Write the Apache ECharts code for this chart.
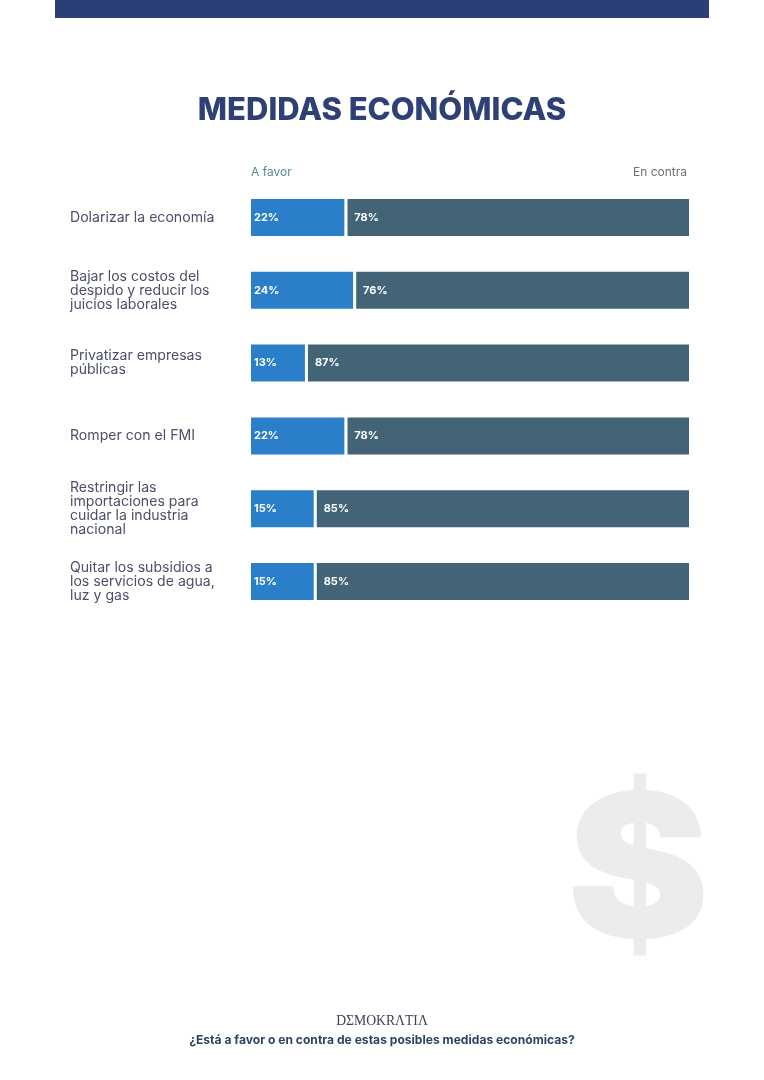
<!DOCTYPE html>
<html>
<head>
<meta charset="utf-8">
<style>html,body{margin:0;padding:0;background:#fff}#chart{width:764px;height:1080px}</style>
<script src="https://cdn.jsdelivr.net/npm/echarts@6/dist/echarts.min.js"></script>
</head>
<body>
<div id="chart"></div>
<script>
// Encuesta: medidas económicas, a favor / en contra (%)
const categories = [
  'Dolarizar la economía',
  'Bajar los costos del\ndespido y reducir los\njuicios laborales',
  'Privatizar empresas\npúblicas',
  'Romper con el FMI',
  'Restringir las\nimportaciones para\ncuidar la industria\nnacional',
  'Quitar los subsidios a\nlos servicios de agua,\nluz y gas'
];
const aFavor = [22, 24, 13, 22, 15, 15];
const enContra = [78, 76, 87, 78, 85, 85];

const SANS = 'Inter, "Open Sans", sans-serif';
const chart = echarts.init(document.getElementById('chart'), null, { renderer: 'canvas' });

chart.setOption({
  animation: false,
  backgroundColor: '#ffffff',
  grid: { left: 251, top: 181, width: 438, height: 437 },
  xAxis: { type: 'value', min: 0, max: 100, show: false },
  yAxis: {
    type: 'category',
    inverse: true,
    data: categories,
    axisLine: { show: false },
    axisTick: { show: false },
    axisLabel: {
      align: 'left',
      margin: 181,
      color: '#4b4f6b',
      fontFamily: SANS,
      fontSize: 14.1,
      lineHeight: 14,
      padding: [2, 0, 0, 0]
    }
  },
  series: [
    {
      name: 'A favor', type: 'bar', stack: 'total', barWidth: 37, data: aFavor,
      itemStyle: { color: '#2b7fca' },
      label: { show: true, position: 'insideLeft', distance: 3, color: '#fff',
               fontFamily: SANS, fontWeight: 700, fontSize: 11, formatter: '{c}%' }
    },
    {
      name: 'En contra', type: 'bar', stack: 'total', barWidth: 37, data: enContra,
      itemStyle: { color: '#426476' },
      label: { show: true, position: 'insideLeft', distance: 7, color: '#fff',
               fontFamily: SANS, fontWeight: 700, fontSize: 11, formatter: '{c}%' }
    },
    {
      // Separador blanco entre los dos tramos de cada barra
      name: 'separador', type: 'custom', silent: true, z: 5,
      data: aFavor.map((v, i) => [v, i]),
      encode: { x: 0, y: 1 },
      renderItem(params, api) {
        const p = api.coord([api.value(0), api.value(1)]);
        return { type: 'rect', shape: { x: p[0] - 3, y: p[1] - 19, width: 3, height: 38 },
                 style: { fill: '#ffffff' } };
      }
    }
  ],
  graphic: [
    { type: 'rect', shape: { x: 55, y: 0, width: 654, height: 18 }, style: { fill: '#2b3f76' } },
    { type: 'text', x: 382, y: 111, style: { text: 'MEDIDAS ECONÓMICAS', fill: '#2e4075',
      font: '800 31px ' + SANS, textAlign: 'center', textVerticalAlign: 'middle' } },
    { type: 'text', x: 251, y: 172, style: { text: 'A favor', fill: '#5b8796',
      font: '400 12px ' + SANS, textAlign: 'left', textVerticalAlign: 'middle' } },
    { type: 'text', x: 687, y: 172, style: { text: 'En contra', fill: '#6b7178',
      font: '400 12px ' + SANS, textAlign: 'right', textVerticalAlign: 'middle' } },
    { type: 'text', x: 638, y: 877, scaleX: 1.07, z: -1,
      style: { text: '$', fill: '#ececec',
      font: '900 200px ' + SANS, textAlign: 'center', textVerticalAlign: 'middle' } },
    { type: 'text', x: 382, y: 1021, style: { text: 'DΣMOKRΛTIΛ', fill: '#3c4254',
      font: '400 13.7px "Liberation Serif", serif', textAlign: 'center', textVerticalAlign: 'middle' } },
    { type: 'text', x: 382, y: 1040, style: { text: '¿Está a favor o en contra de estas posibles medidas económicas?', fill: '#2f4266',
      font: '700 12.1px ' + SANS, textAlign: 'center', textVerticalAlign: 'middle' } }
  ]
});
</script>
</body>
</html>
